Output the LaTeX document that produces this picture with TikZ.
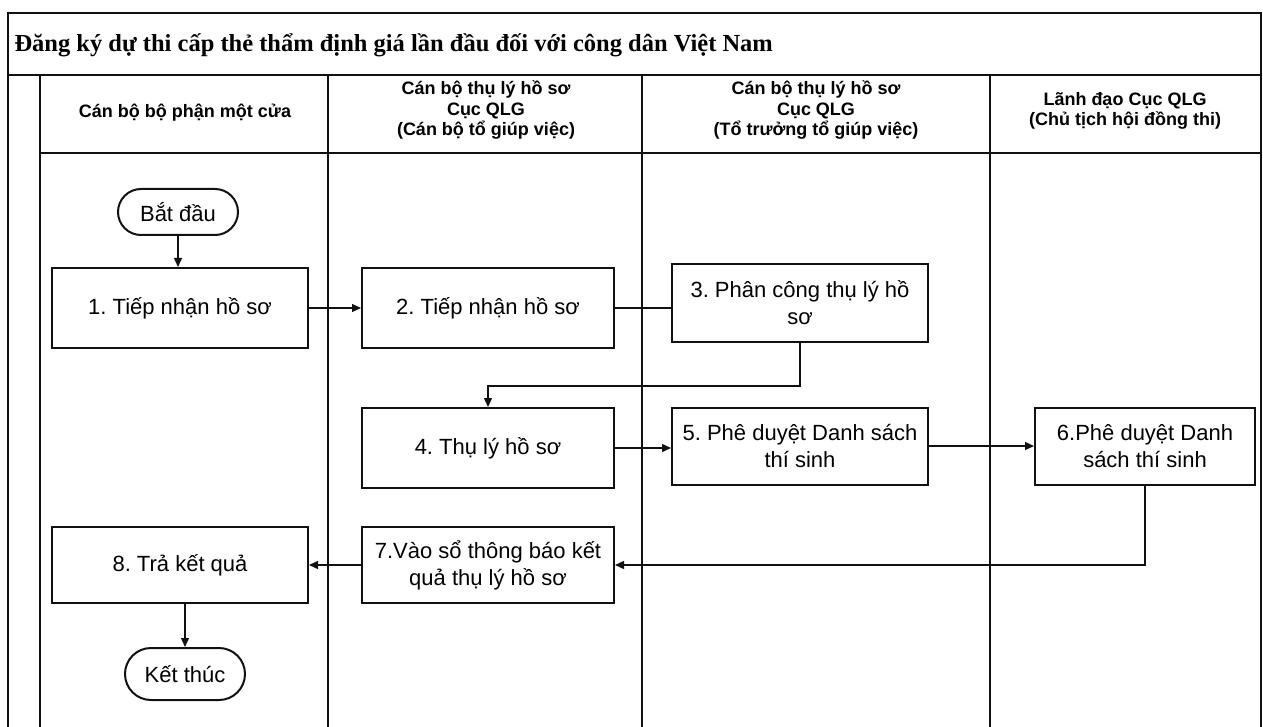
\documentclass[tikz,border=0pt]{standalone}
\usepackage{fontspec}
\setmainfont{Liberation Sans}
\newfontfamily\titlefont{Liberation Serif}
\usepackage{tikz}
\usepackage{xcolor}
\usetikzlibrary{shapes.misc, arrows.meta, positioning, calc}
\definecolor{Lane_Black}{HTML}{111111}
\frenchspacing

\tikzset{
  procbox/.style={draw=Lane_Black, line width=2pt, rectangle, align=center,
    inner sep=0pt, font=\fontsize{22}{27}\selectfont},
  termbox/.style={draw=Lane_Black, line width=2pt, rounded rectangle, align=center,
    inner sep=0pt, font=\fontsize{22}{27}\selectfont},
  lanehead/.style={align=center, font=\bfseries\fontsize{18}{20.5}\selectfont},
  arr/.style={draw=Lane_Black, line width=1.4pt, -{Triangle[length=9pt,width=8pt]}},
  link/.style={draw=Lane_Black, line width=1.4pt}
}

\begin{document}
\begin{tikzpicture}[x=1pt, y=-1pt]
  \useasboundingbox (0,0) rectangle (1263,727);
  % frame and swim lanes
  \draw[line width=1.8pt, Lane_Black] (8,727) -- (8,13) -- (1261,13) -- (1261,727);
  \draw[line width=1.8pt, Lane_Black] (8,75) -- (1261,75);
  \draw[line width=1.6pt, Lane_Black] (40,75) -- (40,727);
  \draw[line width=1.6pt, Lane_Black] (40,153) -- (1261,153);
  \foreach \xx in {328,642,990} {
    \draw[line width=1.6pt, Lane_Black] (\xx,75) -- (\xx,727);
  }
  \node[anchor=west, font=\titlefont\bfseries\fontsize{24.5}{28}\selectfont] (title) at (11,45)
    {Đăng ký dự thi cấp thẻ thẩm định giá lần đầu đối với công dân Việt Nam};

  % lane headers
  \node[lanehead] (head1) at (185,113) {Cán bộ bộ phận một cửa};
  \node[lanehead] (head2) at (486,110) {Cán bộ thụ lý hồ sơ\\Cục QLG\\(Cán bộ tổ giúp việc)};
  \node[lanehead] (head3) at (816,110) {Cán bộ thụ lý hồ sơ\\Cục QLG\\(Tổ trưởng tổ giúp việc)};
  \node[lanehead] (head4) at (1125,111) {Lãnh đạo Cục QLG\\(Chủ tịch hội đồng thi)};

  % steps
  \node[termbox, minimum width=120pt, minimum height=46pt] (start) at (178,212) {Bắt đầu};
  \node[procbox, minimum width=256pt, minimum height=80pt] (s1) at (180,308) {1. Tiếp nhận hồ sơ};
  \node[procbox, minimum width=252pt, minimum height=80pt] (s2) at (488,308) {2. Tiếp nhận hồ sơ};
  \node[procbox, minimum width=256pt, minimum height=78pt] (s3) at (800,303) {3. Phân công thụ lý hồ\\sơ};
  \node[procbox, minimum width=252pt, minimum height=80pt] (s4) at (488,448) {4. Thụ lý hồ sơ};
  \node[procbox, minimum width=256pt, minimum height=77pt] (s5) at (800,446) {5. Phê duyệt Danh sách\\thí sinh};
  \node[procbox, minimum width=220pt, minimum height=77pt] (s6) at (1145,446) {6.Phê duyệt Danh\\sách thí sinh};
  \node[procbox, minimum width=252pt, minimum height=76pt] (s7) at (488,565) {7.Vào sổ thông báo kết\\quả thụ lý hồ sơ};
  \node[procbox, minimum width=256pt, minimum height=76pt] (s8) at (180,565) {8. Trả kết quả};
  \node[termbox, minimum width=120pt, minimum height=52pt] (fin) at (185,674) {Kết thúc};

  % flow
  \draw[arr] (start.south) -- (start.south |- s1.north);
  \draw[arr] (s1.east) -- (s2.west);
  \draw[link] (s2.east) -- (s2.east -| s3.west);
  \draw[arr] (s3.south) -- ++(0,43) -| (s4.north);
  \draw[arr] (s4.east) -- (s4.east -| s5.west);
  \draw[arr] (s5.east) -- (s5.east -| s6.west);
  \draw[arr] (s6.south) |- (s7.east);
  \draw[arr] (s7.west) -- (s8.east);
  \draw[arr] (fin.north |- s8.south) -- (fin.north);
\end{tikzpicture}
\end{document}
